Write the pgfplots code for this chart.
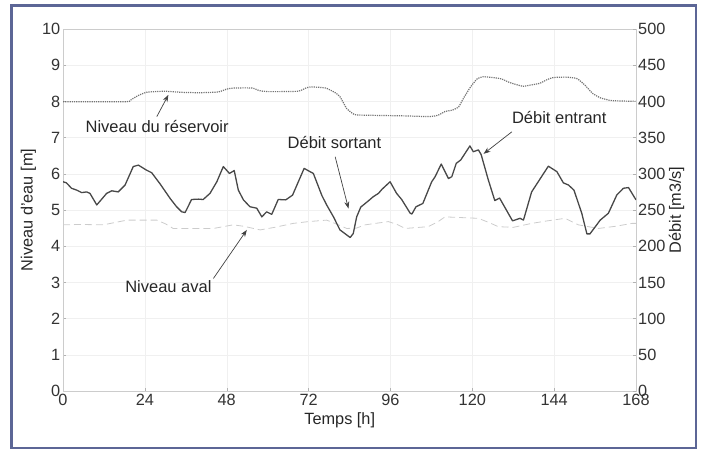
\documentclass[border=0pt]{standalone}
\usepackage{fontspec}
\setmainfont{Liberation Sans}
\usepackage{pgfplots}
\pgfplotsset{compat=1.18}
\usetikzlibrary{arrows.meta}

\definecolor{cadre}{RGB}{92,102,150}
\definecolor{trait}{RGB}{72,72,72}

\pgfplotsset{
  commun/.style={
    width=573pt, height=362pt, scale only axis,
    xmin=0, xmax=168,
    /pgf/number format/assume math mode=true,
    tick label style={font=\fontsize{16.3}{19}\selectfont, text=black!80},
    label style={font=\fontsize{16.3}{19}\selectfont, text=black!85},
    axis line style={black!20},
    tick style={black!30},
    major tick length=3pt,
  },
}
\tikzset{
  fleche/.style={-{Stealth[length=7pt,width=5pt]}, black!75, line width=0.7pt},
  note/.style={font=\fontsize{16.5}{19}\selectfont, text=black!85},
}

\begin{document}
\begin{tikzpicture}
\begin{axis}[commun,
  ymin=0, ymax=10,
  xtick={0,24,...,168}, ytick={0,1,...,10},
  xtick pos=bottom, ytick pos=left,
  grid=major, grid style={black!6},
  yticklabel style={inner xsep=2.5pt},
  xlabel={Temps [h]}, ylabel={Niveau d'eau [m]},
  xlabel style={at={(rel axis cs:0.483,-0.0925)}, anchor=base},
  ylabel style={at={(rel axis cs:-0.0605,0.5)}, anchor=center},
]
% niveau aval
\addplot[black!20, dash pattern=on 7pt off 4pt, line width=0.8pt] coordinates {
  (0,4.59)(5,4.60)(11.8,4.59)(15,4.65)(18.7,4.72)(27.5,4.72)(30,4.62)
  (32.3,4.49)(44.1,4.49)(49.9,4.59)(53,4.55)(57.8,4.45)(62,4.52)
  (67.5,4.63)(72,4.68)(77.3,4.72)(80,4.62)(83.2,4.49)(86,4.50)
  (88.6,4.59)(95.4,4.68)(98,4.60)(100.3,4.49)(107.1,4.54)(110,4.68)
  (112,4.81)(121.8,4.77)(125,4.65)(127.6,4.54)(132,4.52)(137.4,4.63)
  (142,4.70)(147.2,4.77)(151.1,4.59)(157,4.49)(162,4.55)(166.8,4.63)(168,4.63)
};
% niveau du reservoir
\addplot[black!55, densely dotted, line width=1.2pt, smooth, tension=0.3] coordinates {
  (0,7.99)(18.5,7.99)(20,8.05)(22,8.16)(24.4,8.25)(27,8.27)(30,8.28)
  (35,8.25)(40,8.24)(45.5,8.26)(48,8.34)(50,8.37)(55.4,8.37)(57.5,8.30)
  (60,8.27)(68.8,8.28)(71.5,8.38)(73,8.40)(77,8.37)(79.8,8.24)(81.2,8.13)
  (83.2,7.80)(85.4,7.64)(88,7.62)(100,7.60)(107.6,7.58)(110,7.62)
  (112,7.72)(114.2,7.76)(116,7.85)(117.5,8.10)(119.5,8.40)(121.4,8.62)
  (123.1,8.68)(126,8.66)(128.6,8.62)(131,8.52)(134.7,8.42)(137,8.45)
  (139.8,8.50)(141.9,8.60)(143.8,8.66)(147.5,8.67)(150.7,8.63)(153,8.45)
  (155.3,8.22)(157.5,8.10)(159.4,8.05)(161,8.02)(168,8.00)
};

\node[note] at (axis cs:27.6,7.32) {Niveau du réservoir};
\draw[fleche] (axis cs:27.5,7.58) -- (axis cs:30.9,8.18);
\node[note] at (axis cs:79.6,6.86) {Débit sortant};
\draw[fleche] (axis cs:79.8,6.47) -- (axis cs:83.7,5.04);
\node[note] at (axis cs:145.5,7.56) {Débit entrant};
\draw[fleche] (axis cs:131.6,7.16) -- (axis cs:123.3,6.55);
\node[note] at (axis cs:30.9,2.88) {Niveau aval};
\draw[fleche] (axis cs:44.1,3.11) -- (axis cs:53.9,4.45);

\coordinate (fbl) at (rel axis cs:-0.08988,-0.15746);
\coordinate (ftr) at (rel axis cs:1.10471,1.06547);
\coordinate (bbl) at (rel axis cs:-0.10995,-0.16298);
\coordinate (btr) at (rel axis cs:1.11693,1.08011);
\end{axis}

\begin{axis}[commun,
  ymin=0, ymax=500, ytick={0,50,...,500},
  axis x line=none, axis y line*=right,
  yticklabel style={inner xsep=2pt},
  ylabel={Débit [m3/s]},
  ylabel style={at={(rel axis cs:1.071,0.5)}, anchor=center},
]
% debit (m3/s)
\addplot[trait, line width=1.3pt, line join=round] coordinates {
  (0,289)(1,287.5)(2.5,280)(4,277.5)(5.5,274)(6.9,275)(7.9,273)(9.9,257)
  (12.8,273)(14.3,276.5)(16.2,275)(18.2,284.5)(20.6,310)(22.1,312)
  (24.5,305)(26,301.5)(28.4,286.5)(31.4,266)(33.3,254.5)(34.8,247.5)
  (35.8,246.5)(37.7,264.5)(39.7,265)(41.1,264.5)(43.1,273)(45.1,289)
  (47,310)(48.8,300.5)(49.7,303)(50.2,304.5)(51.4,277.5)(52.9,264)
  (54.8,254.5)(56.8,252.5)(58.3,240.5)(59.7,247.5)(61.2,244)(63.1,264.5)
  (65.3,264)(67.3,270.5)(70.7,307.5)(72.4,303)(73.4,300.5)(75.9,270)
  (77.3,257)(79.3,240.5)(81.2,222.5)(84.2,212)(85.1,217.5)(86.1,240.5)
  (87.3,254)(89.5,262.5)(91,268.5)(92.5,273)(93.5,278.5)(95.9,289)
  (97.8,273)(99.3,264.5)(101.8,245.5)(102.3,244.5)(103.5,254.5)(105.5,259)
  (108.1,289)(109.1,296)(110.9,313.5)(113,293.5)(114,296)(115.3,314.5)
  (116.6,319)(119.3,338.5)(120.3,330.5)(121.8,333)(122.6,326.5)(124.7,291.5)
  (126.6,263)(128,266.5)(131.8,235)(134,238.5)(135,236)(137.4,275)
  (142.3,310.5)(144.8,303)(146.7,287.5)(148.2,284.5)(149.8,277.5)
  (152.1,245.5)(153.6,217)(154.5,217)(157.5,236)(159.9,245.5)(162.4,271)
  (164.3,280)(165.8,281)(168,264)
};
\end{axis}

\draw[cadre, line width=2.5pt] (fbl) rectangle (ftr);
\pgfresetboundingbox
\path[use as bounding box] (bbl) rectangle (btr);
\end{tikzpicture}
\end{document}
